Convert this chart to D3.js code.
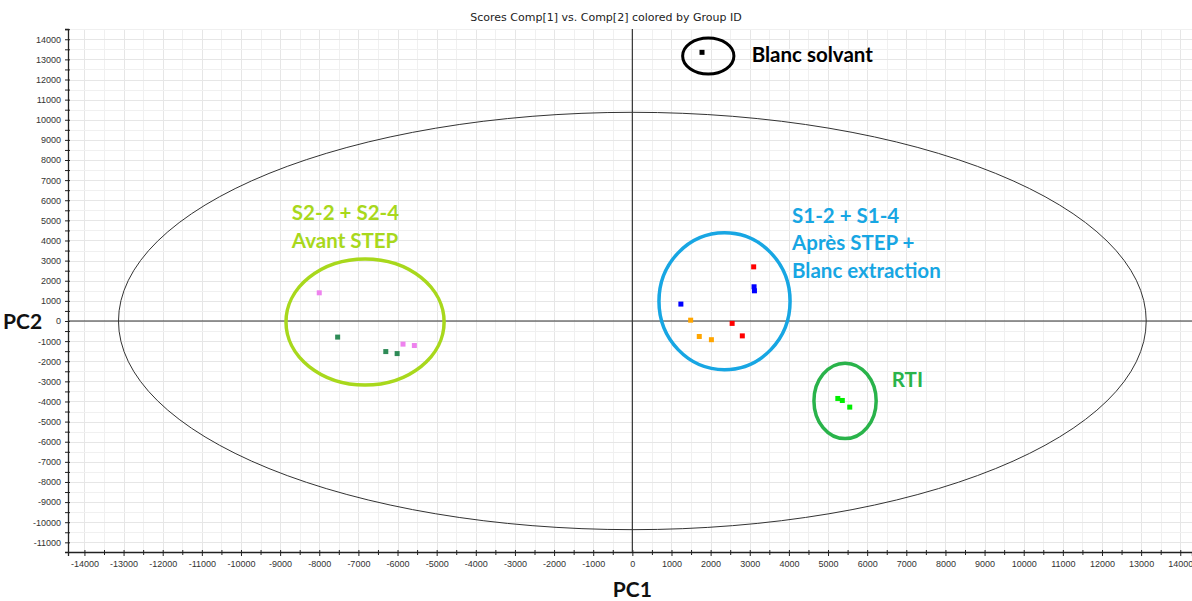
<!DOCTYPE html>
<html lang="fr">
<head>
<meta charset="utf-8">
<title>Scores Comp[1] vs. Comp[2]</title>
<script src="https://d3js.org/d3.v7.min.js"></script>
<style>
  body { margin: 0; background: #fff; }
  svg { display: block; font-family: "DejaVu Sans", sans-serif; }
  .tick text { font-size: 9px; fill: #333; }
  .grid line { stroke: #e6e6e6; shape-rendering: crispEdges; }
  .grid line.minor { stroke: #f0f0f0; }
  .lbl { font-family: Lato, "Open Sans", sans-serif; font-weight: bold; font-size: 20.5px; }
</style>
</head>
<body>
<div id="chart"></div>
<script>
// score points (PC1, PC2) per group
var groupNames = ["Blanc solvant", "S2-2 violet", "S2-4 vert", "S1 rouge", "S1 bleu", "S1 orange", "RTI"];
var groupColors = ["#000000", "#ee82ee", "#2e8b57", "#ff0000", "#0000ff", "#ffa500", "#00ee00"];
var pc1 = [
  [1780],
  [-8000, -5860, -5570],
  [-7530, -6300, -6010],
  [3100, 2550, 2810],
  [3110, 3120, 1240],
  [1490, 1710, 2020],
  [5250, 5365, 5555]
];
var pc2 = [
  [13350],
  [1400, -1150, -1220],
  [-800, -1520, -1620],
  [2690, -120, -740],
  [1700, 1500, 840],
  [40, -770, -930],
  [-3850, -3950, -4280]
];

// ellipses: centre and radii in score units
var ellNames = ["T2", "blanc", "avant", "apres", "rti"];
var ellCx = [0, 1940, -6830, 2355, 5435];
var ellCy = [0, 13170, -50, 980, -3970];
var ellRx = [13130, 655, 2020, 1675, 795];
var ellRy = [10370, 895, 3130, 3400, 1875];
var ellColors = ["#333333", "#000000", "#a8d81c", "#17a6e3", "#29b34a"];
var ellWidths = [1, 3, 3.5, 3.5, 3.5];

// annotations
var noteLines = [["Blanc solvant"], ["S2-2 + S2-4", "Avant STEP"], ["S1-2 + S1-4", "Après STEP +", "Blanc extraction"], ["RTI"]];
var noteX = [3050, -8700, 4080, 6630];
var noteY = [12870, 5000, 4880, -3300];
var noteColors = ["#000000", "#a8d81c", "#17a6e3", "#29b34a"];

var xTicks = d3.range(-14000, 14001, 1000);
var yTicks = d3.range(-11000, 14001, 1000);

var width = 1192, height = 601;
var mLeft = 68, mRight = 1192, mTop = 29, mBottom = 552;

var svg = d3.select("#chart").append("svg")
  .attr("width", width)
  .attr("height", height);

var x = d3.scaleLinear().domain([-14420, 14300]).range([mLeft, mRight]);
var y = d3.scaleLinear().domain([-11480, 14510]).range([mBottom, mTop]);
var fmt = function(d){ return String(d); };

// grid every 500
var grid = svg.append("g").attr("class", "grid");
grid.selectAll("line.v")
  .data(d3.range(-14000, 14301, 500))
  .enter().append("line")
  .attr("class", function(d){ return d % 1000 ? "v minor" : "v"; })
  .attr("x1", function(d){ return Math.round(x(d)) + 0.5; })
  .attr("x2", function(d){ return Math.round(x(d)) + 0.5; })
  .attr("y1", mTop).attr("y2", mBottom);
grid.selectAll("line.h")
  .data(d3.range(-11000, 14501, 500))
  .enter().append("line")
  .attr("class", function(d){ return d % 1000 ? "h minor" : "h"; })
  .attr("y1", function(d){ return Math.round(y(d)) + 0.5; })
  .attr("y2", function(d){ return Math.round(y(d)) + 0.5; })
  .attr("x1", mLeft).attr("x2", mRight);

// axes
var xAxis = svg.append("g")
  .attr("transform", "translate(0," + mBottom + ")")
  .call(d3.axisBottom(x).tickValues(xTicks).tickSize(4).tickPadding(5).tickFormat(fmt));
xAxis.selectAll(".tick line").attr("y1", -2);
svg.append("g")
  .attr("transform", "translate(0," + mBottom + ")")
  .call(d3.axisBottom(x).tickValues(d3.range(-13500, 14001, 1000)).tickSize(3).tickFormat(""))
  .call(function(g){ g.select(".domain").remove(); g.selectAll(".tick line").attr("y1", -2); });

var yAxis = svg.append("g")
  .attr("transform", "translate(" + mLeft + ",0)")
  .call(d3.axisLeft(y).tickValues(yTicks).tickSize(3).tickPadding(4).tickFormat(fmt));
yAxis.selectAll(".tick line").attr("x1", 2);
svg.append("g")
  .attr("transform", "translate(" + mLeft + ",0)")
  .call(d3.axisLeft(y).tickValues(d3.range(-10500, 14501, 1000)).tickSize(3).tickFormat(""))
  .call(function(g){ g.select(".domain").remove(); g.selectAll(".tick line").attr("x1", 2); });

svg.selectAll(".domain").attr("stroke", "#222").attr("stroke-width", 1.3);
svg.selectAll(".tick line").attr("stroke", "#222");

// zero lines
svg.append("line")
  .attr("x1", mLeft).attr("x2", mRight)
  .attr("y1", y(0)).attr("y2", y(0))
  .attr("stroke", "#333").attr("stroke-width", 1.2);
svg.append("line")
  .attr("x1", x(0)).attr("x2", x(0))
  .attr("y1", mTop).attr("y2", mBottom)
  .attr("stroke", "#333").attr("stroke-width", 1.2);

// ellipses
svg.selectAll("ellipse.ring")
  .data(ellNames)
  .enter().append("ellipse")
  .attr("class", "ring")
  .attr("cx", function(d, i){ return x(ellCx[i]); })
  .attr("cy", function(d, i){ return y(ellCy[i]); })
  .attr("rx", function(d, i){ return x(ellRx[i]) - x(0); })
  .attr("ry", function(d, i){ return y(0) - y(ellRy[i]); })
  .attr("fill", "none")
  .attr("stroke", function(d, i){ return ellColors[i]; })
  .attr("stroke-width", function(d, i){ return ellWidths[i]; });

// points
groupNames.forEach(function(name, gi){
  svg.append("g").selectAll("rect")
    .data(pc1[gi])
    .enter().append("rect")
    .attr("x", function(d){ return x(d) - 2.5; })
    .attr("y", function(d, i){ return y(pc2[gi][i]) - 2.5; })
    .attr("width", 5).attr("height", 5)
    .attr("fill", groupColors[gi]);
});

// annotations
noteLines.forEach(function(lines, ni){
  var t = svg.append("text")
    .attr("class", "lbl")
    .attr("fill", noteColors[ni])
    .attr("x", x(noteX[ni]))
    .attr("y", y(noteY[ni]));
  lines.forEach(function(s, li){
    t.append("tspan")
      .attr("x", x(noteX[ni]))
      .attr("dy", li === 0 ? 0 : 27.5)
      .text(s);
  });
});

// titles
svg.append("text")
  .attr("x", 606).attr("y", 21)
  .attr("text-anchor", "middle")
  .style("font-size", "11px")
  .attr("fill", "#222")
  .text("Scores Comp[1] vs. Comp[2] colored by Group ID");

svg.append("text")
  .attr("class", "lbl")
  .attr("x", x(0)).attr("y", 597)
  .attr("text-anchor", "middle")
  .style("font-size", "21px")
  .attr("fill", "#111")
  .text("PC1");

svg.append("text")
  .attr("class", "lbl")
  .attr("x", 3).attr("y", y(0) + 8)
  .style("font-size", "21px")
  .attr("fill", "#111")
  .text("PC2");
</script>
</body>
</html>
